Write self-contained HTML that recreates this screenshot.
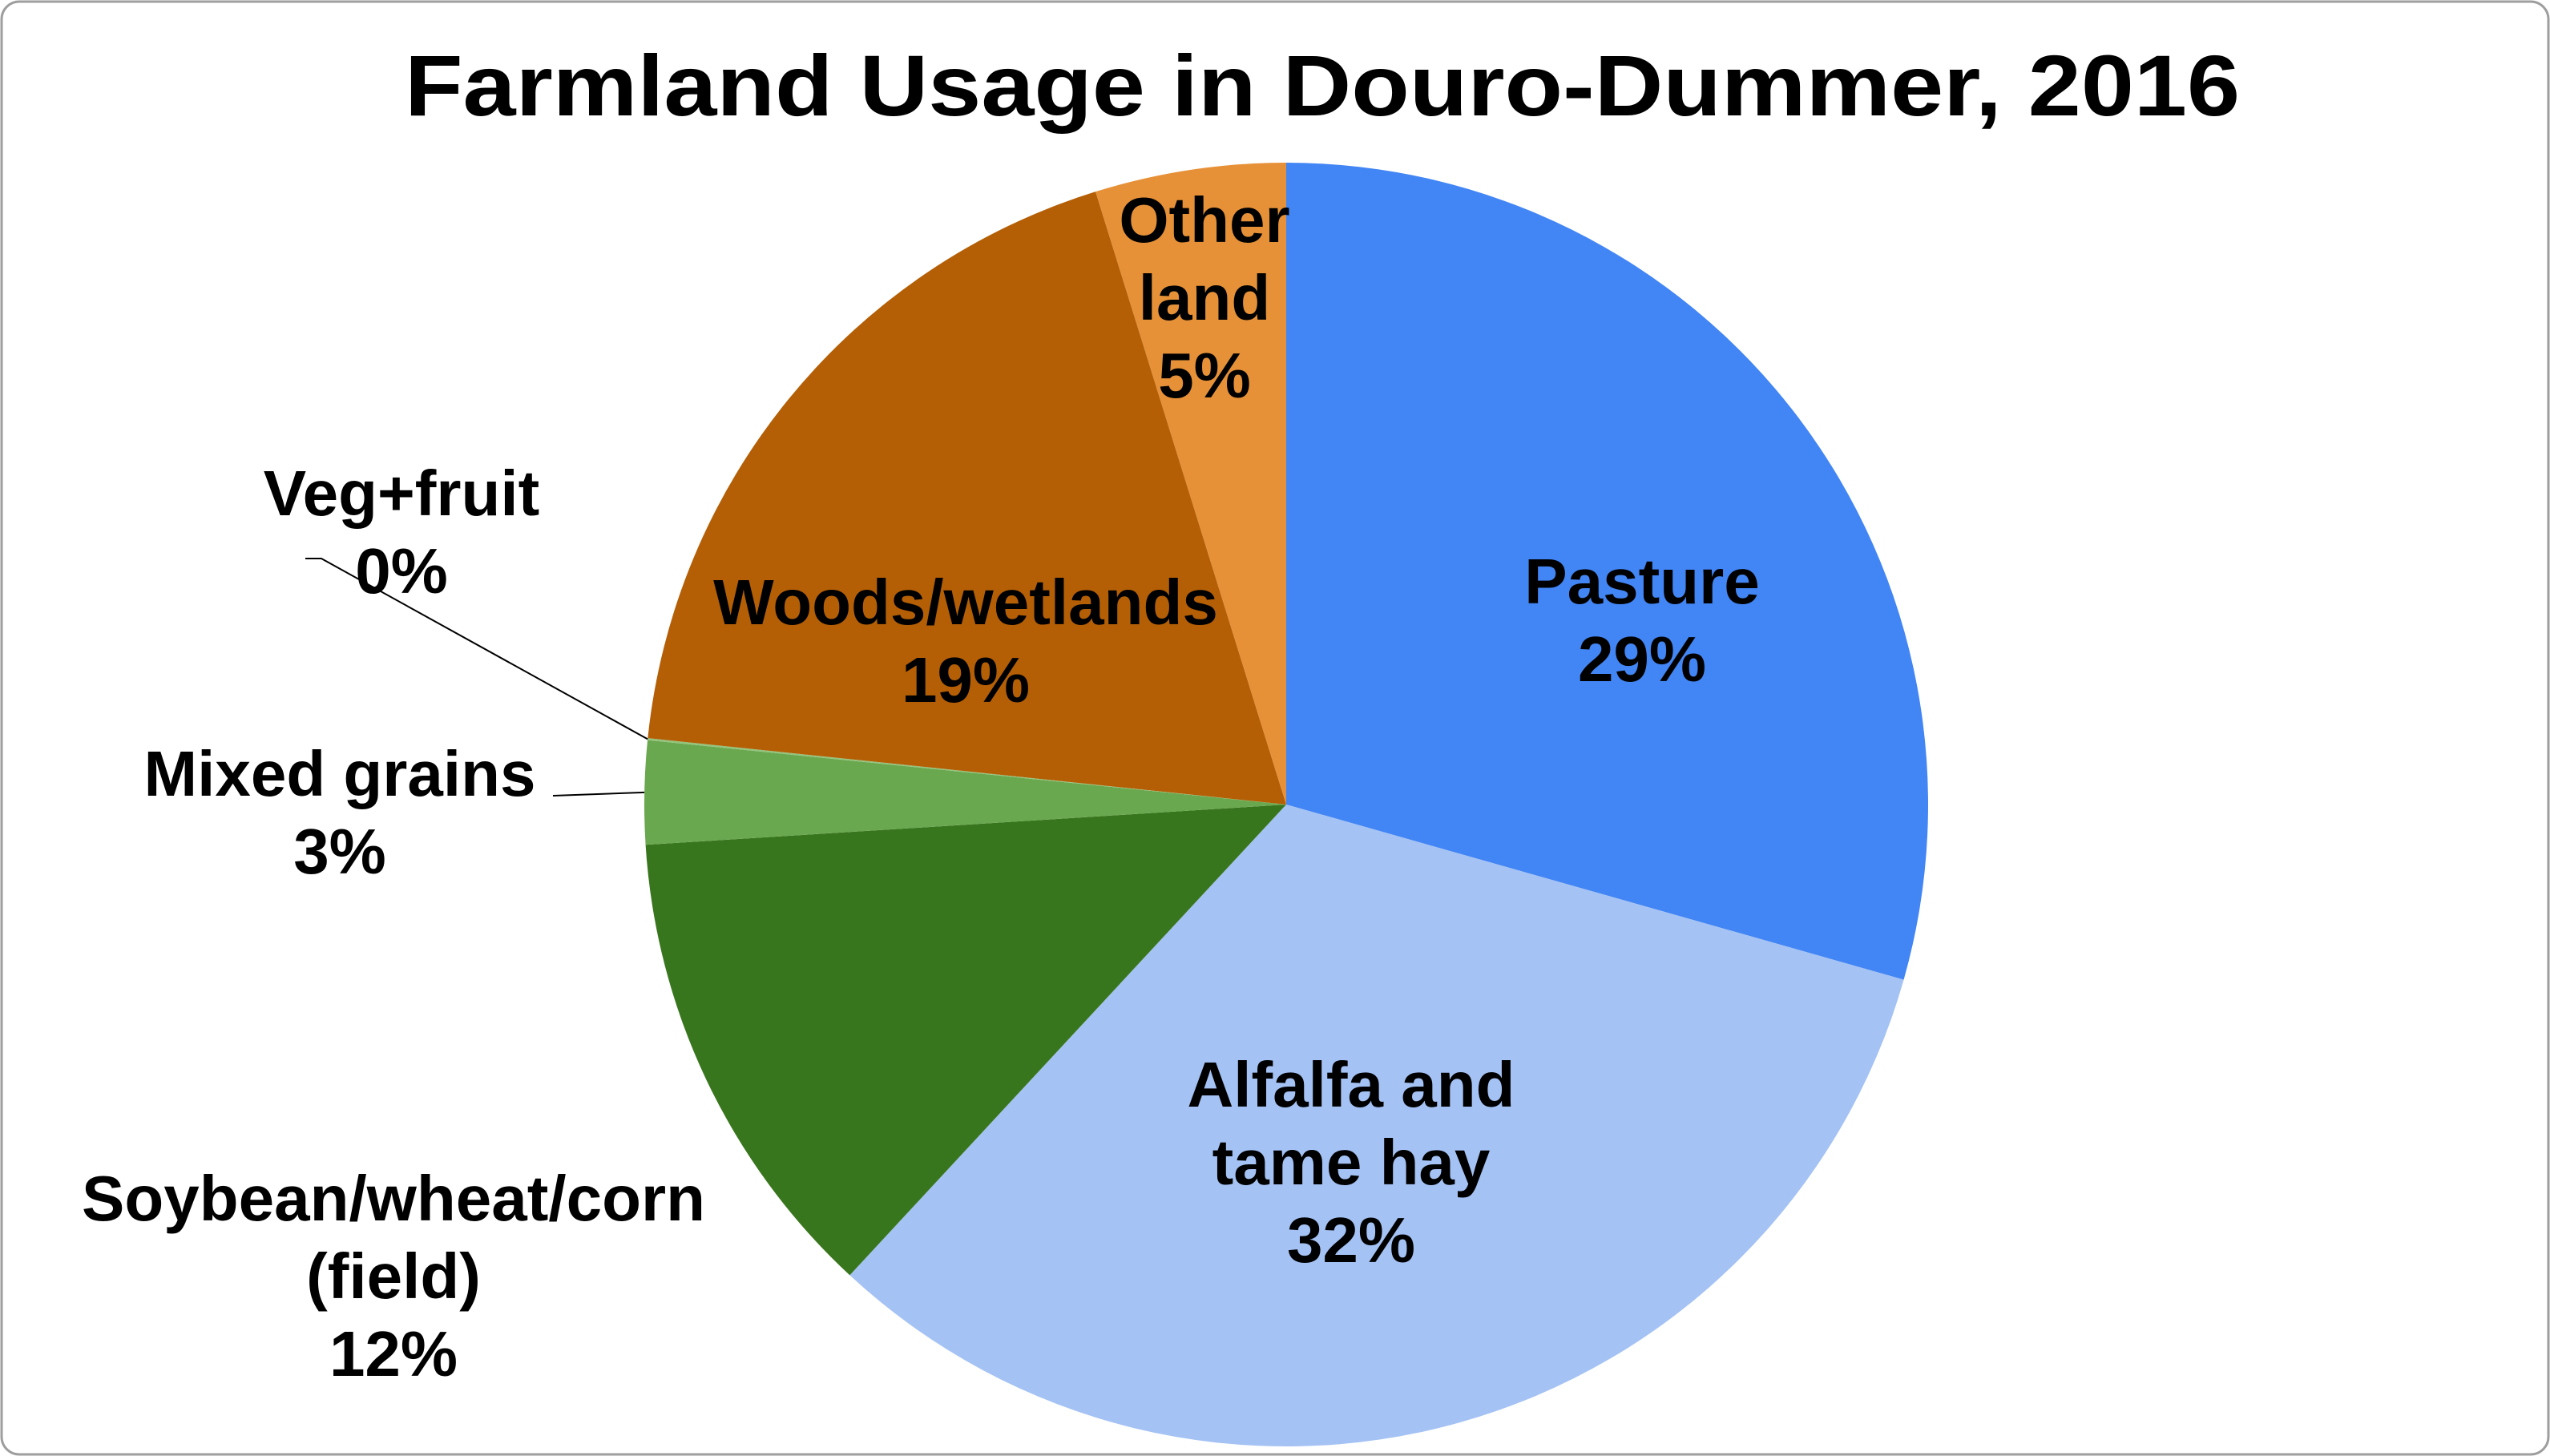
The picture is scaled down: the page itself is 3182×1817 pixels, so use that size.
<!DOCTYPE html>
<html><head><meta charset="utf-8"><style>
html,body{margin:0;padding:0;background:#fff}
svg{display:block}
text{font-family:"Liberation Sans",Arial,sans-serif;font-weight:bold;fill:#000}
</style></head><body>
<svg id="chart" width="3182" height="1817" viewBox="0 0 3182 1817" xmlns="http://www.w3.org/2000/svg">
<rect x="2" y="2" width="3178" height="1813" rx="22" fill="#fff" stroke="#9e9e9e" stroke-width="3"/>
<text x="1650" y="144" font-size="108" text-anchor="middle" textLength="2290" lengthAdjust="spacingAndGlyphs">Farmland Usage in Douro-Dummer, 2016</text>
<g id="slices"></g>
<g id="labels"></g>
</svg>
<script>
const categories = ["Pasture","Alfalfa and tame hay","Soybean/wheat/corn (field)","Mixed grains","Veg+fruit","Woods/wetlands","Other land"];
const values = [29.4, 32.5, 12.1, 2.6, 0.05, 18.55, 4.8];
const printedPct = ["29%","32%","12%","3%","0%","19%","5%"];
const colors = ["#4285F4","#A4C2F4","#38761D","#6AA84F","#93C47D","#B45F06","#E69138"];
const labelLines = [["Pasture"],["Alfalfa and","tame hay"],["Soybean/wheat/corn","(field)"],["Mixed grains"],["Veg+fruit"],["Woods/wetlands"],["Other","land"]];
const labelPos = [[2049,753],[1686,1381],[491,1523],[424,993],[501,643],[1205,779],[1503,302]];

const cx=1605, cy=1004, r=801, lh=97;
const NS="http://www.w3.org/2000/svg";
const total = values.reduce((a,b)=>a+b,0);
function angle(v){return v/total*2*Math.PI;}
function pt(a){return [cx+r*Math.sin(a), cy-r*Math.cos(a)];}
const gs=document.getElementById('slices'), gl=document.getElementById('labels');
let acc=0;
const bounds=[];
values.forEach((v,i)=>{
  const a0=angle(acc), a1=angle(acc+v); acc+=v;
  bounds.push([a0,a1]);
  const p0=pt(a0), p1=pt(a1);
  const large=(a1-a0)>Math.PI?1:0;
  const path=document.createElementNS(NS,'path');
  path.setAttribute('d',`M${cx},${cy} L${p0[0]},${p0[1]} A${r},${r} 0 ${large} 1 ${p1[0]},${p1[1]} Z`);
  path.setAttribute('fill',colors[i]);
  
  
  gs.appendChild(path);
});
function leader(i, pts){
  const pl=document.createElementNS(NS,'polyline');
  pl.setAttribute('points',pts.map(p=>p.join(',')).join(' '));
  pl.setAttribute('fill','none');pl.setAttribute('stroke','#000');pl.setAttribute('stroke-width','2');
  
  
  gl.appendChild(pl);
}
const vegMid=pt((bounds[4][0]+bounds[4][1])/2);
leader(4,[[381,697],[401,697],vegMid]);
const mixMid=pt((bounds[3][0]+bounds[3][1])/2);
leader(3,[[690,993],mixMid]);
labelLines.forEach((lines,i)=>{
  const all=lines.concat([printedPct[i]]);
  const t=document.createElementNS(NS,'text');
  t.setAttribute('text-anchor','middle');
  t.setAttribute('font-size','80');
  
  
  all.forEach((s,j)=>{
    const ts=document.createElementNS(NS,'tspan');
    ts.setAttribute('x',labelPos[i][0]);
    ts.setAttribute('y',labelPos[i][1]+j*lh);
    ts.textContent=s;
    t.appendChild(ts);
  });
  gl.appendChild(t);
});
</script>
</body></html>
